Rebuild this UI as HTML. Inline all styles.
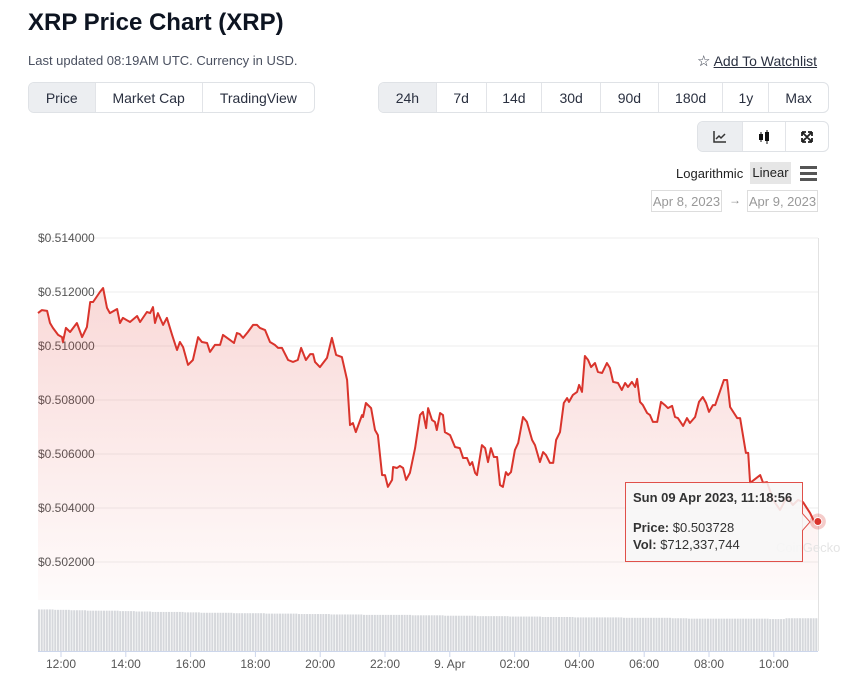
<!DOCTYPE html>
<html><head><meta charset="utf-8"><style>
*{box-sizing:border-box;margin:0;padding:0}
body{width:850px;height:687px;background:#fff;font-family:"Liberation Sans",sans-serif;color:#0d1421;position:relative;overflow:hidden}
.abs{position:absolute}
.grp{position:absolute;display:flex;border:1px solid #dfe2e6;border-radius:6px;overflow:hidden;height:31px}
.grp div{display:flex;align-items:center;justify-content:center;font-size:14px;color:#2a3040;border-left:1px solid #e2e4e8;height:100%}
.grp div:first-child{border-left:none}
.grp .on{background:#eceef1}
.inp{position:absolute;border:1px solid #ddd;font-size:13px;color:#999;height:22px;display:flex;align-items:center;justify-content:center}
</style></head><body>
<div class="abs" style="left:28px;top:9px;font-size:24px;font-weight:bold">XRP Price Chart (XRP)</div>
<div class="abs" style="left:28px;top:53px;font-size:13px;color:#4a5060">Last updated 08:19AM UTC. Currency in USD.</div>
<div class="abs" style="left:697px;top:52px;font-size:14px;color:#2a3040"><span style="font-size:15px">☆</span> <span style="text-decoration:underline">Add To Watchlist</span></div>
<div class="grp" style="left:28px;top:82px;width:287px">
<div class="on" style="width:66px">Price</div>
<div style="width:108px">Market Cap</div>
<div style="width:113px">TradingView</div></div>
<div class="grp" style="left:378px;top:82px;width:451px">
<div class="on" style="width:57px">24h</div>
<div style="width:50px">7d</div>
<div style="width:56px">14d</div>
<div style="width:59px">30d</div>
<div style="width:58px">90d</div>
<div style="width:65px">180d</div>
<div style="width:46px">1y</div>
<div style="width:60px">Max</div></div>
<div class="grp" style="left:697px;top:121px;width:132px">
<div class="on" style="width:45px"><svg width="14" height="12"><path d="M1 0V11H13M3 8L6 5L8 7L12 3" stroke="#333" fill="none" stroke-width="1.5"/></svg></div>
<div style="width:43px"><svg width="14" height="14"><rect x="2" y="4" width="4" height="6" fill="#111"/><line x1="4" y1="2" x2="4" y2="12" stroke="#111"/><rect x="8" y="2" width="4" height="9" fill="#111"/><line x1="10" y1="0" x2="10" y2="14" stroke="#111"/></svg></div>
<div style="width:44px"><svg width="12" height="12"><path d="M1 1L11 11M11 1L1 11M1 1h4M1 1v4M11 1h-4M11 1v4M1 11h4M1 11v-4M11 11h-4M11 11v-4" stroke="#222" stroke-width="1.8" fill="none"/></svg></div></div>
<div class="abs" style="left:676px;top:166px;font-size:13px;color:#222">Logarithmic</div>
<div class="abs" style="left:750px;top:162px;width:41px;height:22px;background:#e6e6e6;font-size:13px;color:#222;text-align:center;line-height:22px">Linear</div>
<div class="abs" style="left:800px;top:166px;width:17px"><div style="height:3px;background:#555;margin-bottom:3px"></div><div style="height:3px;background:#555;margin-bottom:3px"></div><div style="height:3px;background:#555"></div></div>
<div class="inp" style="left:651px;top:190px;width:71px">Apr 8, 2023</div>
<div class="abs" style="left:729px;top:193px;font-size:12px;color:#888">→</div>
<div class="inp" style="left:747px;top:190px;width:71px">Apr 9, 2023</div>
<svg id="ch" class="abs" style="left:0;top:0" width="850" height="687">
<defs><linearGradient id="gf" x1="0" y1="0" x2="0" y2="1"><stop offset="0" stop-color="#e0403a" stop-opacity="0.2"/><stop offset="1" stop-color="#e0403a" stop-opacity="0.02"/></linearGradient></defs>
</svg>
<div class="abs" style="left:776px;top:540px;font-size:13px;color:#e4e4e4">CoinGecko</div>
<div class="abs" style="left:625px;top:482px;width:178px;height:80px;background:rgba(247,247,247,0.88);border:1px solid #e0504a;font-size:13px;color:#333;padding:7px 0 0 7px">
<div style="font-weight:bold">Sun 09 Apr 2023, 11:18:56</div>
<div style="margin-top:15px"><b>Price:</b> $0.503728</div>
<div style="margin-top:2px"><b>Vol:</b> $712,337,744</div>
</div>
<svg class="abs" style="left:802px;top:513px" width="10" height="18"><path d="M0 0L8 9L0 18" fill="rgba(247,247,247,0.9)" stroke="#e0504a"/></svg>
<script>
const times=[11.29,11.41,11.57,11.66,11.75,11.91,12.03,12.06,12.15,12.28,12.49,12.65,12.80,12.90,12.99,13.20,13.30,13.42,13.51,13.73,13.82,13.91,14.13,14.35,14.44,14.65,14.75,14.84,14.90,14.99,15.15,15.27,15.43,15.58,15.67,15.77,15.92,16.07,16.23,16.35,16.51,16.60,16.75,16.91,17.00,17.22,17.34,17.43,17.52,17.62,17.77,17.93,18.05,18.14,18.30,18.45,18.60,18.70,18.82,19.01,19.16,19.31,19.41,19.56,19.69,19.78,19.84,19.99,20.21,20.36,20.49,20.67,20.83,20.92,21.01,21.10,21.29,21.32,21.41,21.57,21.69,21.78,21.91,22.00,22.09,22.22,22.25,22.37,22.46,22.56,22.65,22.77,22.93,23.08,23.17,23.27,23.33,23.45,23.54,23.60,23.70,23.79,23.85,24.01,24.16,24.31,24.41,24.53,24.62,24.69,24.78,24.84,24.99,25.09,25.18,25.27,25.36,25.46,25.55,25.64,25.73,25.80,25.89,26.01,26.11,26.26,26.38,26.54,26.63,26.78,26.88,26.97,27.09,27.19,27.28,27.40,27.52,27.62,27.68,27.80,27.93,27.99,28.08,28.17,28.27,28.36,28.48,28.57,28.70,28.85,28.94,29.04,29.19,29.31,29.41,29.50,29.62,29.72,29.78,29.87,29.96,30.09,30.18,30.27,30.40,30.52,30.64,30.73,30.86,30.95,31.04,31.20,31.32,31.41,31.57,31.69,31.81,31.91,32.00,32.12,32.19,32.46,32.56,32.65,32.87,32.96,33.14,33.21,33.27,33.58,33.67,33.79,33.98,34.19,34.41,34.59,34.75,34.90,35.12,35.27,35.36];
const prices=[0.51122,0.51133,0.51130,0.51085,0.51067,0.51041,0.51033,0.51015,0.51067,0.51052,0.51085,0.51033,0.51070,0.51163,0.51163,0.51200,0.51215,0.51141,0.51122,0.51137,0.51085,0.51104,0.51089,0.51111,0.51089,0.51126,0.51122,0.51144,0.51085,0.51122,0.51078,0.51104,0.51041,0.50985,0.51015,0.50996,0.50930,0.50948,0.51033,0.51015,0.51011,0.50978,0.51004,0.51004,0.51041,0.51022,0.51011,0.51048,0.51044,0.51030,0.51052,0.51078,0.51078,0.51067,0.51059,0.51015,0.51004,0.50993,0.50993,0.50948,0.50941,0.50948,0.50993,0.50948,0.50970,0.50970,0.50941,0.50922,0.50956,0.51030,0.50967,0.50959,0.50874,0.50707,0.50715,0.50681,0.50744,0.50737,0.50789,0.50770,0.50689,0.50670,0.50522,0.50522,0.50478,0.50504,0.50552,0.50548,0.50556,0.50548,0.50504,0.50530,0.50622,0.50744,0.50756,0.50696,0.50770,0.50726,0.50719,0.50689,0.50752,0.50744,0.50681,0.50670,0.50626,0.50622,0.50585,0.50585,0.50559,0.50570,0.50530,0.50522,0.50633,0.50622,0.50570,0.50622,0.50589,0.50589,0.50485,0.50478,0.50533,0.50522,0.50533,0.50615,0.50641,0.50737,0.50719,0.50652,0.50633,0.50570,0.50607,0.50596,0.50567,0.50567,0.50652,0.50681,0.50789,0.50807,0.50793,0.50819,0.50830,0.50856,0.50830,0.50963,0.50948,0.50922,0.50937,0.50904,0.50900,0.50937,0.50919,0.50867,0.50863,0.50837,0.50863,0.50848,0.50867,0.50848,0.50878,0.50793,0.50781,0.50752,0.50744,0.50719,0.50719,0.50793,0.50781,0.50770,0.50778,0.50737,0.50733,0.50704,0.50733,0.50715,0.50737,0.50793,0.50811,0.50789,0.50756,0.50781,0.50781,0.50874,0.50874,0.50774,0.50733,0.50733,0.50604,0.50604,0.50493,0.50522,0.50493,0.50496,0.50430,0.50393,0.50441,0.50411,0.50430,0.50422,0.50381,0.50344,0.50350];
const yTicks=[0.514,0.512,0.510,0.508,0.506,0.504,0.502];
const xTickHours=[12,14,16,18,20,22,24,26,28,30,32,34];
const xTickLabels=["12:00","14:00","16:00","18:00","20:00","22:00","9. Apr","02:00","04:00","06:00","08:00","10:00"];
const volumes=[0.99,0.98,0.97,0.96,0.96,0.95,0.94,0.93,0.93,0.92,0.91,0.91,0.90,0.90,0.89,0.89,0.88,0.88,0.87,0.87,0.86,0.86,0.86,0.85,0.85,0.84,0.84,0.83,0.83,0.82,0.82,0.81,0.81,0.80,0.80,0.80,0.79,0.79,0.79,0.78,0.77,0.77,0.77,0.77,0.77,0.76,0.78,0.78];
const svg=document.getElementById('ch'),NS='http://www.w3.org/2000/svg';
const X=t=>61+(t-12)*32.4, Y=p=>238+(0.514-p)*27000;
const VB=651, VS=42;
function mk(tag,a,par){const e=document.createElementNS(NS,tag);for(const k in a)e.setAttribute(k,a[k]);(par||svg).appendChild(e);return e;}
yTicks.forEach(v=>{
 const g=mk('line',{x1:38,x2:818,y1:Y(v),y2:Y(v),stroke:'#eeeeee'});
 
 
 const t=mk('text',{x:38,y:Y(v)+4,'font-size':12,fill:'#555','font-family':'Liberation Sans'});
 t.textContent='$'+v.toFixed(6);
 
 
});
const bw=780/volumes.length;
volumes.forEach((v,i)=>{for(let k=0;k<6;k++){
 const b=mk('rect',{x:38+i*bw+k*bw/6,y:VB-v*VS,width:bw/6-0.7,height:v*VS,fill:'#d6d8dc'});
 
 
}});
const ax=mk('line',{x1:38,x2:818,y1:VB+0.5,y2:VB+0.5,stroke:'#ccd6eb'});


const rb=mk('line',{x1:818.5,x2:818.5,y1:238,y2:VB,stroke:'#e2e2e2'});


xTickHours.forEach((h,i)=>{
 const tk=mk('line',{x1:X(h),x2:X(h),y1:VB,y2:VB+6,stroke:'#ccd6eb'});
 
 
 const t=mk('text',{x:X(h),y:668,'font-size':12,fill:'#555','text-anchor':'middle','font-family':'Liberation Sans'});
 t.textContent=xTickLabels[i];
 
 
});
let d=times.map((t,i)=>(i?'L':'M')+X(t).toFixed(1)+' '+Y(prices[i]).toFixed(1)).join('');
const area=mk('path',{d:d+'L'+X(times[times.length-1])+' 600L'+X(times[0])+' 600Z',fill:'url(#gf)'});


const ln=mk('path',{d:d,fill:'none',stroke:'#d9342c','stroke-width':2,'stroke-linejoin':'round'});


const n=times.length-1;
const halo=mk('circle',{cx:X(times[n]),cy:Y(prices[n]),r:8,fill:'rgba(217,52,44,0.25)'});


const dot=mk('circle',{cx:X(times[n]),cy:Y(prices[n]),r:4,fill:'#d9342c',stroke:'#fff'});


</script>
</body></html>
